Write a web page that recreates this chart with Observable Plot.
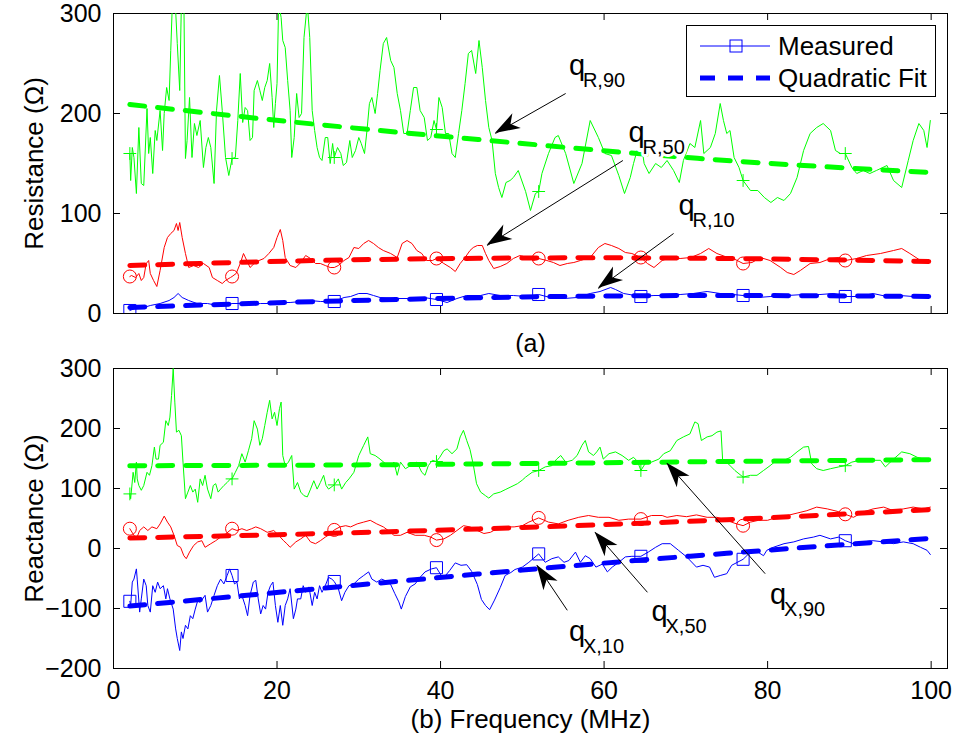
<!DOCTYPE html>
<html>
<head>
<meta charset="utf-8">
<script src="https://cdn.jsdelivr.net/npm/d3@7"></script>
<script src="https://cdn.jsdelivr.net/npm/@observablehq/plot@0.6"></script>
<style>
  body { margin: 0; background: #fff; color: #000; font-family: "Liberation Sans", Arial, sans-serif; }
  #chart { position: relative; width: 954px; height: 740px; }
  #chart svg { display: block; }
  .legend { position: absolute; left: 686px; top: 25px; width: 250px; height: 72px; box-sizing: border-box;
            border: 1px solid #000; background: #fff; font-size: 26px; }
  .legend .row { position: absolute; left: 0; height: 32px; display: flex; align-items: center; }
  .legend .row svg { width: 90px; height: 32px; }
  .legend .row span { margin-left: 1px; line-height: 32px; }
</style>
</head>
<body>
<div id="chart"></div>
<script>
// ---- frequency axis (MHz) ----
const freqTicks = [0, 20, 40, 60, 80, 100];
const markerFreqs = [2, 14.5, 27, 39.5, 52, 64.5, 77, 89.5];

// ---- (a) resistance, measured quantiles [MHz, ohm] ----
const resTicks = [0, 100, 200, 300];
const resQ90 = [[2,160],[2.1,133],[2.3,166],[2.5,156],[2.8,120],[3.1,186],[3.4,130],[3.7,128],[4.1,205],[4.3,160],[4.5,176],[4.8,140],[5.1,183],[5.3,173],[5.7,203],[6.0,163],[6.2,200],[6.5,226],[6.8,213],[7.0,263],[7.2,310],[7.5,320],[7.8,270],[8.1,223],[8.3,310],[8.6,320],[8.8,155],[9.0,173],[9.3,216],[9.6,156],[9.9,190],[10.2,178],[10.6,193],[11.0,146],[11.3,166],[11.6,176],[11.9,166],[12.3,130],[12.6,203],[12.96,238],[13.3,203],[13.7,156],[14.1,138],[14.5,155],[14.9,156],[15.2,193],[15.5,240],[15.8,191],[16.1,206],[16.4,203],[16.7,173],[17.0,176],[17.2,223],[17.6,233],[17.9,223],[18.2,213],[18.5,226],[18.8,233],[19.1,250],[19.4,216],[19.6,186],[19.8,210],[20.0,230],[20.2,310],[20.5,296],[20.7,273],[21.0,266],[21.3,233],[21.6,203],[21.8,156],[22.1,176],[22.4,220],[22.7,196],[23.0,200],[23.3,276],[23.7,310],[24.0,276],[24.3,203],[24.6,183],[24.9,166],[25.2,156],[25.5,153],[25.9,176],[26.2,176],[26.5,150],[26.8,170],[27.0,156],[27.4,166],[27.8,160],[28.1,148],[28.5,151],[28.9,173],[29.2,156],[29.6,163],[30.0,176],[30.3,170],[30.7,160],[31.0,183],[31.3,210],[31.6,216],[32.0,200],[32.3,220],[32.6,243],[33.0,270],[33.4,276],[33.9,253],[34.3,246],[34.7,220],[35.1,203],[35.5,180],[35.9,180],[36.3,203],[36.7,226],[37.1,226],[37.5,203],[38.0,196],[38.4,173],[38.8,176],[39.2,193],[39.5,184],[39.8,216],[40.2,206],[40.6,180],[41.0,180],[41.4,160],[41.8,156],[42.2,180],[42.6,203],[43.0,230],[43.4,260],[43.8,263],[44.3,240],[44.7,273],[45.1,246],[45.5,213],[45.9,186],[46.3,173],[46.7,140],[47.1,126],[47.5,116],[48.0,131],[48.5,133],[48.9,136],[49.5,143],[50.4,122],[51.0,103],[51.6,120],[52.0,122],[52.4,140],[53.2,160],[54.0,176],[54.4,178],[55.3,160],[56.3,130],[57.3,150],[58.3,193],[59.3,176],[60.1,160],[60.9,158],[61.8,138],[62.5,120],[63.2,136],[63.6,150],[64.0,162],[64.5,172],[64.9,150],[65.5,140],[66.3,150],[67.0,146],[67.7,153],[68.5,143],[69.2,131],[69.7,153],[70.5,170],[71.1,166],[71.8,193],[72.2,160],[73.0,166],[73.6,180],[74.2,210],[74.6,193],[75.0,180],[75.4,183],[75.9,156],[76.5,146],[77.0,133],[77.9,123],[78.8,123],[79.6,116],[80.4,111],[81.2,116],[82.0,113],[82.8,120],[83.6,136],[84.4,163],[85.2,180],[86.0,186],[86.8,190],[87.7,183],[88.3,163],[88.9,160],[89.5,160],[90.3,146],[90.9,140],[91.7,143],[92.5,140],[93.3,143],[94.6,148],[95.4,133],[96.4,126],[97.2,153],[97.8,173],[98.5,190],[99.1,183],[99.5,166],[99.9,193]];
const resQ50 = [[2,37],[2.2,38],[2.7,36],[3.1,40],[3.4,33],[3.7,36],[4.0,50],[4.3,53],[4.5,40],[4.9,33],[5.3,27],[5.7,43],[6.2,66],[6.6,76],[7.0,80],[7.4,83],[7.7,90],[7.9,83],[8.1,91],[8.4,76],[8.8,60],[9.2,46],[9.8,48],[10.4,46],[11.0,50],[11.7,46],[12.1,36],[12.7,33],[13.3,30],[13.7,33],[14.3,36],[14.5,37],[15.0,40],[15.5,50],[15.9,60],[16.3,53],[16.7,46],[17.2,50],[17.8,53],[18.4,55],[19.0,60],[19.6,66],[20.0,76],[20.4,84],[20.7,73],[21.0,56],[21.6,48],[22.3,46],[22.9,51],[23.5,58],[24.1,55],[24.7,50],[25.3,50],[25.9,48],[26.5,46],[27.0,46],[27.5,48],[28.2,53],[28.8,56],[29.4,66],[30.0,65],[30.6,70],[31.2,73],[31.8,70],[32.4,66],[33.0,63],[33.9,60],[34.7,56],[35.3,70],[35.9,73],[36.5,70],[37.1,63],[37.7,60],[38.3,53],[39.0,53],[39.5,55],[40.4,50],[41.2,46],[41.8,42],[42.4,50],[43.0,56],[43.6,63],[44.0,66],[44.5,68],[45.1,68],[45.5,60],[45.9,53],[46.5,45],[47.3,47],[48.1,50],[48.9,55],[49.7,58],[50.6,56],[51.4,53],[52.0,55],[53.0,53],[53.8,51],[54.6,48],[55.5,50],[56.3,51],[57.1,53],[58.3,56],[59.3,66],[60.1,70],[60.9,68],[61.8,65],[62.6,61],[63.4,60],[64.5,56],[65.3,50],[66.1,46],[67.1,53],[68.1,56],[69.3,55],[70.6,56],[71.8,60],[72.8,65],[73.8,60],[74.8,57],[75.8,55],[77.0,50],[78.1,51],[79.1,56],[80.3,53],[81.6,46],[82.4,41],[83.2,39],[84.0,43],[85.2,50],[86.4,51],[87.7,55],[88.7,56],[89.5,53],[90.9,55],[92.1,58],[93.8,60],[95.4,63],[96.4,65],[97.4,60],[98.7,53],[99.9,53]];
const resQ10 = [[2,3],[2.9,6],[3.7,6],[4.5,8],[5.7,10],[6.8,13],[7.4,16],[7.9,20],[8.4,16],[9.2,13],[10.2,10],[11.5,10],[12.7,8],[13.7,8],[14.5,10],[15.5,10],[16.7,9],[18.0,10],[19.2,10],[20.4,11],[21.6,11],[22.9,12],[24.1,13],[25.3,12],[26.5,12],[27.0,12],[28.2,16],[29.0,17],[30.0,20],[31.0,20],[31.8,18],[32.6,16],[33.9,15],[35.9,15],[38.0,16],[39.5,14],[40.8,11],[42.0,15],[43.2,18],[44.9,18],[45.9,20],[47.3,18],[48.9,18],[50.5,17],[52.0,19],[53.4,16],[55.1,15],[56.7,16],[58.3,20],[59.5,22],[60.8,26],[61.4,24],[62.4,20],[64.5,17],[66.1,18],[67.7,18],[69.3,19],[70.9,20],[72.6,22],[74.2,20],[75.8,19],[77.0,18],[78.8,16],[80.4,17],[82.4,18],[84.4,19],[86.4,19],[88.1,20],[89.5,17],[91.3,17],[92.9,20],[94.6,17],[96.2,18],[97.8,17],[99.9,17]];

// ---- (b) reactance, measured quantiles [MHz, ohm] ----
const reaTicks = [-200, -100, 0, 100, 200, 300];
const reaQ90 = [[2,91],[2.1,83],[2.4,127],[2.6,110],[2.8,144],[2.9,116],[3.1,105],[3.4,97],[3.7,105],[4.1,127],[4.4,122],[4.7,138],[5.0,169],[5.2,149],[5.5,149],[5.7,172],[6.1,177],[6.4,213],[6.7,205],[6.9,219],[7.1,255],[7.3,300],[7.5,244],[7.7,194],[8.0,197],[8.3,188],[8.5,144],[8.8,83],[9.1,94],[9.4,105],[9.7,94],[10.0,99],[10.3,77],[10.6,116],[10.9,105],[11.2,122],[11.5,99],[11.9,83],[12.2,105],[12.5,108],[12.8,94],[13.1,99],[13.5,105],[13.9,110],[14.3,116],[14.5,116],[14.9,127],[15.3,138],[15.7,158],[16.1,144],[16.5,163],[16.9,183],[17.2,213],[17.6,199],[17.9,172],[18.2,183],[18.5,205],[18.8,227],[19.1,247],[19.4,216],[19.7,227],[20.0,205],[20.3,233],[20.5,244],[20.7,155],[21.0,138],[21.4,144],[21.8,155],[22.1,99],[22.5,110],[22.9,94],[23.3,88],[23.7,86],[24.1,99],[24.5,113],[24.9,99],[25.3,110],[25.7,122],[26.0,105],[26.3,99],[27.0,106],[27.5,116],[27.9,99],[28.4,110],[28.8,116],[29.4,127],[30.0,155],[30.6,172],[31.1,186],[31.4,158],[32.0,155],[32.6,149],[33.3,141],[33.9,138],[34.3,144],[34.7,122],[35.1,144],[35.7,133],[36.3,138],[37.1,144],[37.7,127],[38.1,122],[38.5,138],[39.0,147],[39.5,145],[39.9,152],[40.4,163],[40.8,166],[41.4,158],[42.0,166],[42.4,186],[42.8,197],[43.2,180],[43.6,165],[44.0,140],[44.4,108],[44.9,94],[45.5,88],[45.9,84],[46.5,91],[47.3,94],[47.9,98],[48.5,102],[49.4,108],[50.0,114],[50.4,119],[51.2,127],[52.0,130],[52.8,136],[53.6,138],[54.2,149],[54.7,155],[55.3,144],[56.1,147],[56.7,155],[57.3,172],[57.7,180],[58.1,161],[58.7,155],[59.1,161],[59.5,169],[59.9,149],[60.6,158],[61.4,161],[62.2,155],[63.0,147],[63.6,152],[64.1,145],[64.5,130],[65.0,141],[65.8,144],[66.7,149],[67.3,158],[68.1,163],[68.9,180],[69.7,186],[70.5,191],[71.1,211],[71.5,208],[71.9,180],[72.6,186],[73.2,188],[73.8,194],[74.3,196],[74.5,147],[75.2,141],[76.0,130],[77.0,119],[77.9,122],[78.7,122],[79.5,130],[80.3,138],[81.1,147],[82.0,147],[82.8,152],[83.6,161],[84.4,169],[85.0,170],[85.4,141],[86.0,133],[86.8,130],[87.7,133],[88.7,136],[89.5,138],[90.3,144],[91.3,147],[92.5,147],[93.8,147],[94.4,136],[95.4,149],[96.4,161],[97.4,158],[98.3,152],[99.1,149],[99.9,147]];
const reaQ50 = [[2,33],[2.4,24],[2.8,16],[3.2,30],[3.7,36],[4.2,30],[4.7,36],[5.3,33],[5.7,41],[6.2,54],[6.6,44],[7.0,36],[7.4,22],[7.8,5],[8.2,2],[8.6,-12],[8.9,-17],[9.3,-6],[9.8,5],[10.3,11],[10.8,13],[11.2,2],[11.9,8],[12.5,13],[13.1,19],[13.7,24],[14.5,33],[15.1,30],[15.7,33],[16.3,30],[16.9,33],[17.4,36],[18.0,33],[18.8,27],[19.6,30],[20.2,22],[20.8,13],[21.2,8],[21.6,2],[22.3,11],[22.9,16],[23.5,22],[24.1,11],[24.7,8],[25.3,13],[25.9,19],[26.5,24],[27.0,31],[27.7,36],[28.4,38],[29.0,36],[29.8,41],[30.6,44],[31.4,47],[32.2,41],[33.0,36],[33.6,30],[34.3,22],[35.1,22],[35.9,27],[36.9,22],[38.0,22],[38.8,19],[39.5,14],[40.4,16],[41.2,22],[42.0,30],[42.8,38],[43.6,36],[44.5,30],[45.3,25],[46.1,27],[46.9,33],[47.7,36],[49.0,36],[50.0,38],[50.8,44],[52.0,51],[53.2,44],[54.4,41],[55.6,47],[56.9,52],[58.1,55],[59.3,52],[60.6,52],[61.8,47],[63.0,49],[64.5,49],[65.8,55],[67.1,55],[67.7,52],[68.9,55],[70.1,53],[71.3,56],[72.6,52],[73.8,52],[75.0,47],[76.0,42],[77.0,38],[77.9,44],[78.9,47],[80.0,47],[81.1,52],[82.4,55],[83.6,59],[84.8,63],[86.0,69],[87.3,66],[88.5,62],[89.5,57],[90.5,52],[91.7,61],[92.9,66],[94.2,69],[95.4,63],[96.6,66],[97.8,69],[99.1,66],[99.9,69]];
const reaQ10 = [[2,-88],[2.1,-95],[2.3,-56],[2.5,-51],[2.8,-34],[2.9,-51],[3.2,-106],[3.4,-84],[3.7,-51],[4.0,-62],[4.2,-95],[4.5,-106],[4.8,-62],[5.1,-73],[5.4,-56],[5.7,-67],[6.1,-62],[6.4,-84],[6.6,-67],[6.9,-84],[7.3,-101],[7.6,-134],[7.8,-150],[8.1,-170],[8.3,-139],[8.5,-150],[8.8,-128],[9.1,-134],[9.4,-112],[9.7,-117],[10.0,-101],[10.3,-87],[10.6,-90],[10.9,-84],[11.2,-78],[11.5,-106],[11.9,-95],[12.3,-78],[12.7,-62],[13.1,-51],[13.5,-59],[13.9,-45],[14.2,-34],[14.5,-45],[14.8,-59],[15.1,-56],[15.4,-84],[15.7,-78],[16.1,-95],[16.4,-112],[16.7,-78],[17.1,-56],[17.4,-53],[17.7,-84],[18.0,-109],[18.3,-95],[18.6,-101],[18.9,-73],[19.2,-62],[19.5,-56],[19.8,-95],[20.1,-123],[20.4,-95],[20.7,-128],[21.0,-95],[21.3,-84],[21.6,-67],[22.0,-117],[22.3,-101],[22.5,-84],[22.9,-84],[23.2,-62],[23.5,-73],[23.9,-64],[24.3,-95],[24.6,-73],[24.9,-84],[25.2,-62],[25.5,-73],[25.9,-62],[26.3,-48],[26.7,-51],[27.0,-55],[27.5,-67],[27.9,-87],[28.3,-73],[28.8,-62],[29.4,-59],[30.0,-51],[30.6,-45],[31.2,-39],[31.6,-51],[32.2,-56],[32.8,-51],[33.3,-54],[33.9,-60],[34.4,-75],[34.9,-89],[35.2,-101],[35.7,-80],[36.3,-64],[36.9,-59],[37.5,-48],[38.1,-39],[38.9,-34],[39.5,-32],[40.3,-50],[41.1,-37],[41.8,-24],[42.5,-28],[43.2,-27],[43.8,-38],[44.5,-60],[45.0,-85],[45.5,-95],[46.0,-102],[46.6,-86],[47.3,-65],[47.9,-45],[48.6,-40],[49.1,-35],[50.0,-31],[50.8,-23],[52.0,-9],[52.8,-23],[53.6,-17],[54.4,-14],[55.1,-23],[55.7,-20],[56.5,-6],[57.1,-23],[57.7,-12],[58.3,-17],[59.0,-31],[59.8,-26],[60.4,-39],[61.0,-31],[61.8,-23],[62.6,-14],[63.4,-13],[64.5,-13],[65.4,-6],[66.3,2],[67.1,8],[68.1,8],[69.1,-3],[70.1,-14],[71.3,-31],[72.1,-28],[72.9,-31],[73.5,-48],[74.2,-45],[75.0,-42],[75.6,-28],[77.0,-18],[77.9,-6],[78.7,-5],[79.5,-12],[79.9,-3],[80.7,2],[82.0,8],[83.2,11],[84.4,16],[85.6,19],[86.4,22],[87.7,16],[88.7,19],[89.5,13],[90.5,8],[91.7,11],[92.9,13],[94.2,11],[95.4,8],[96.6,11],[97.8,8],[98.7,2],[99.5,-3],[99.9,-10]];

// ---- quadratic fits, sampled along frequency ----
const fitFreq = [2, 25, 50, 75, 100];
const fitResQ90 = [209, 189, 170, 153, 141];
const fitResQ50 = [48, 53, 55.5, 55, 52];
const fitResQ10 = [6, 12, 16.5, 18, 17];
const fitReaQ90 = [138, 139, 141.5, 145, 148];
const fitReaQ50 = [17.5, 24.7, 35, 48, 65];
const fitReaQ10 = [-96, -67, -36, -8, 17];

// ---- quantile annotations: label anchor and arrow (tail -> tip), in data units ----
const resNoteNames = ["R,90", "R,50", "R,10"];
const resNoteAt = [[55.7, 239], [63.0, 172], [69.1, 99]];
const resArrowTail = [[55.3, 220], [62.3, 153], [68.5, 80]];
const resArrowTip = [[46.7, 180], [45.7, 68], [59.3, 25]];
const reaNoteNames = ["X,90", "X,50", "X,10"];
const reaNoteAt = [[80.3, -93], [65.8, -121], [55.7, -154]];
const reaArrowTail = [[79.7, -42], [65.3, -73], [55.5, -103]];
const reaArrowTip = [[67.7, 142], [58.9, 27], [51.8, -28]];

const GREEN = "#00ff00", RED = "#ff0000", BLUE = "#0000ff";
const WIDTH = 954, ML = 113, MR = 7, PLOT_W = WIDTH - ML - MR, PLOT_H = 300;
const minusFmt = d => d < 0 ? "\u2212" + Math.abs(d) : String(d);

const rows = pairs => pairs.map(([f, v]) => ({f, v}));
const markersOf = data => data.filter(d => markerFreqs.includes(d.f));
const fitRows = vals => fitFreq.map((f, i) => ({f, v: vals[i]}));
const noteRows = (names, at, tail, tip) => names.map((name, i) => ({
  name, qf: at[i][0], qv: at[i][1],
  f1: tail[i][0], v1: tail[i][1], f2: tip[i][0], v2: tip[i][1]
}));

function panel({height, marginTop, marginBottom, yDomain, yTicks, series, fits, notes, xLabels, yLabel, bottomText, bottomDy, bottomSize}) {
  const marks = [
    Plot.frame({stroke: "black", strokeWidth: 1}),
    // inward ticks on all four sides
    Plot.tickX(freqTicks, {x: d => d, insetTop: PLOT_H - 7, stroke: "black"}),
    Plot.tickX(freqTicks, {x: d => d, insetBottom: PLOT_H - 7, stroke: "black"}),
    Plot.tickY(yTicks, {y: d => d, insetRight: PLOT_W - 7, stroke: "black"}),
    Plot.tickY(yTicks, {y: d => d, insetLeft: PLOT_W - 7, stroke: "black"}),
    Plot.axisY(yTicks, {tickSize: 0, tickPadding: 12, tickFormat: minusFmt, label: null, fontSize: 25})
  ];
  if (xLabels) marks.push(Plot.axisX(freqTicks, {tickSize: 0, tickPadding: 13, label: null, fontSize: 25}));
  for (const s of series) {
    const data = rows(s.values);
    marks.push(Plot.line(data, {x: "f", y: "v", stroke: s.color, strokeWidth: 1, clip: true}));
    marks.push(Plot.dot(markersOf(data), {x: "f", y: "v", symbol: s.symbol, r: s.r, stroke: s.color, fill: "none", strokeWidth: 1, clip: true}));
  }
  for (const s of fits) {
    marks.push(Plot.line(fitRows(s.values), {x: "f", y: "v", stroke: s.color, strokeWidth: 5, strokeDasharray: "15,13", curve: "natural", clip: true}));
  }
  const qText = {x: "qf", y: "qv", text: () => "q", textAnchor: "start", lineAnchor: "bottom", fontSize: 29};
  const subText = {x: "qf", y: "qv", text: "name", textAnchor: "start", lineAnchor: "bottom", dx: 14, dy: 12, fontSize: 20};
  marks.push(
    Plot.link(notes, {x1: "f1", y1: "v1", x2: "f2", y2: "v2", stroke: "black", strokeWidth: 1}),
    // white backing behind each label, then the glyphs on top
    Plot.text(notes, {...qText, fill: "white", stroke: "white", strokeWidth: 8}),
    Plot.text(notes, {...subText, fill: "white", stroke: "white", strokeWidth: 6}),
    Plot.text(notes, {...qText, fill: "black"}),
    Plot.text(notes, {...subText, fill: "black"}),
    Plot.text([yLabel], {text: d => d, frameAnchor: "left", textAnchor: "middle", lineAnchor: "middle", rotate: -90, dx: -79, fontSize: 26, fill: "black"}),
    Plot.text([bottomText], {text: d => d, frameAnchor: "bottom", textAnchor: "middle", lineAnchor: "bottom", dy: bottomDy, fontSize: bottomSize, fill: "black"})
  );
  const svg = Plot.plot({
    width: WIDTH, height, marginLeft: ML, marginRight: MR, marginTop, marginBottom,
    style: {fontFamily: "'Liberation Sans', Arial, sans-serif", fontSize: "25px", color: "black", background: "white", overflow: "visible"},
    x: {domain: [0, 102], axis: null},
    y: {domain: yDomain, axis: null},
    marks
  });
  // filled arrowheads at the tip of each annotation arrow
  const sx = svg.scale("x"), sy = svg.scale("y");
  const g = d3.select(svg).append("g");
  for (const d of notes) {
    const x1 = sx.apply(d.f1), y1 = sy.apply(d.v1), x2 = sx.apply(d.f2), y2 = sy.apply(d.v2);
    const a = Math.atan2(y2 - y1, x2 - x1), c = Math.cos(a), s = Math.sin(a);
    const pt = (l, w) => [x2 - l * c + w * s, y2 - l * s - w * c];
    const pts = [pt(0, 0), pt(25, 8.5), pt(18, 0), pt(25, -8.5)];
    g.append("path").attr("d", "M" + pts.map(p => p.join(",")).join("L") + "Z").attr("fill", "black");
  }
  return svg;
}

const chart = document.getElementById("chart");

chart.appendChild(panel({
  height: 360, marginTop: 13, marginBottom: 47, yDomain: [0, 300], yTicks: resTicks,
  series: [
    {values: resQ90, color: GREEN, symbol: "plus", r: 4.2},
    {values: resQ50, color: RED, symbol: "circle", r: 6.5},
    {values: resQ10, color: BLUE, symbol: "square", r: 6.8}
  ],
  fits: [{values: fitResQ90, color: GREEN}, {values: fitResQ50, color: RED}, {values: fitResQ10, color: BLUE}],
  notes: noteRows(resNoteNames, resNoteAt, resArrowTail, resArrowTip),
  xLabels: false, yLabel: "Resistance (\u03A9)", bottomText: "(a)", bottomDy: 38, bottomSize: 25
}));

chart.appendChild(panel({
  height: 380, marginTop: 8, marginBottom: 72, yDomain: [-200, 300], yTicks: reaTicks,
  series: [
    {values: reaQ90, color: GREEN, symbol: "plus", r: 4.2},
    {values: reaQ50, color: RED, symbol: "circle", r: 6.5},
    {values: reaQ10, color: BLUE, symbol: "square", r: 6.8}
  ],
  fits: [{values: fitReaQ90, color: GREEN}, {values: fitReaQ50, color: RED}, {values: fitReaQ10, color: BLUE}],
  notes: noteRows(reaNoteNames, reaNoteAt, reaArrowTail, reaArrowTip),
  xLabels: true, yLabel: "Reactance (\u03A9)", bottomText: "(b) Frequency (MHz)", bottomDy: 59, bottomSize: 26
}));

// legend box in the upper right of panel (a)
const legend = document.createElement("div");
legend.className = "legend";
legend.innerHTML = `
  <div class="row" style="top:4px">
    <svg viewBox="0 0 90 32"><line x1="13" y1="16" x2="83" y2="16" stroke="${BLUE}" stroke-width="1"/>
      <rect x="43" y="10" width="12" height="12" fill="none" stroke="${BLUE}" stroke-width="1"/></svg>
    <span>Measured</span></div>
  <div class="row" style="top:36px">
    <svg viewBox="0 0 90 32"><line x1="13" y1="16" x2="83" y2="16" stroke="${BLUE}" stroke-width="5" stroke-dasharray="15,13"/></svg>
    <span>Quadratic Fit</span></div>`;
chart.appendChild(legend);
</script>
</body>
</html>
